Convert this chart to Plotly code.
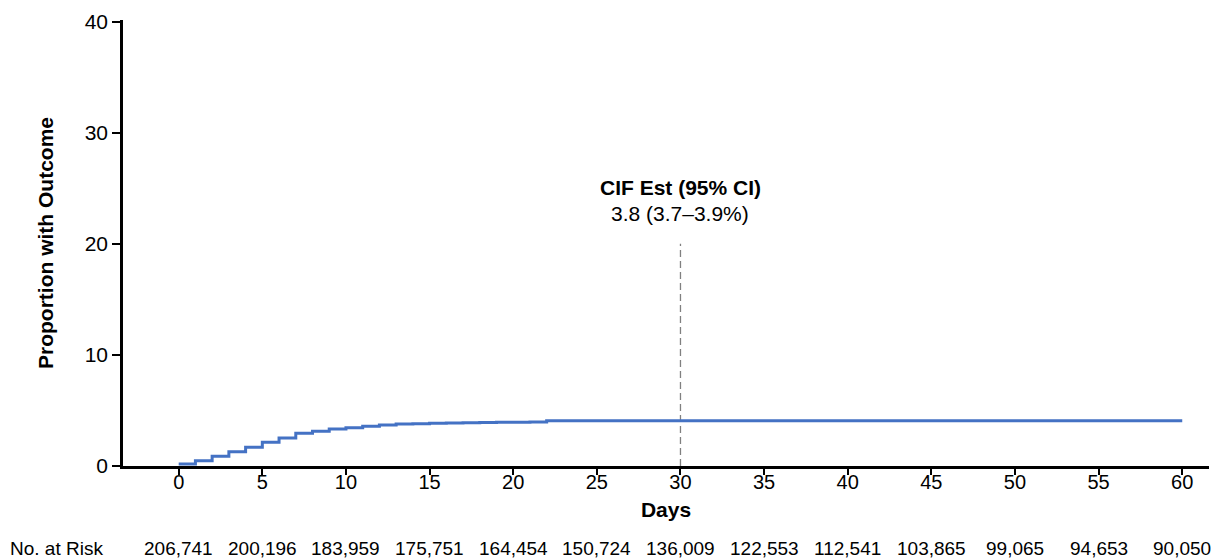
import plotly.graph_objects as go

# Data
days = list(range(0, 23)) + [60]
cif = [0.18, 0.48, 0.87, 1.29, 1.68, 2.13, 2.52, 2.94, 3.12, 3.33, 3.45, 3.57,
       3.69, 3.78, 3.80, 3.84, 3.86, 3.90, 3.91, 3.93, 3.94, 3.95, 4.08, 4.08]

tick_days = list(range(0, 61, 5))
at_risk = ["206,741", "200,196", "183,959", "175,751", "164,454", "150,724", "136,009",
           "122,553", "112,541", "103,865", "99,065", "94,653", "90,050"]
y_ticks = [0, 10, 20, 30, 40]

ref_day = 30
ref_top = 20
cif_title = "CIF Est (95% CI)"
cif_label = "3.8 (3.7\u20133.9%)"

FONT = "Arial, Liberation Sans, sans-serif"

fig = go.Figure()
fig.add_trace(go.Scatter(
    x=[ref_day, ref_day], y=[0, ref_top], mode="lines",
    line=dict(color="#808080", width=1.3, dash="7px,4px"),
    showlegend=False, hoverinfo="skip"))
fig.add_trace(go.Scatter(
    x=days, y=cif, mode="lines", line_shape="hv",
    line=dict(color="#4472C4", width=3), showlegend=False))

fig.add_annotation(x=ref_day, y=ref_top, xref="x", yref="y",
                   text="<b>" + cif_title + "</b>",
                   showarrow=False, yanchor="middle", yshift=56,
                   font=dict(family=FONT, size=21, color="black"))
fig.add_annotation(x=ref_day, y=ref_top, xref="x", yref="y",
                   text=cif_label,
                   showarrow=False, yanchor="middle", yshift=30,
                   font=dict(family=FONT, size=21, color="black"))

for d, n in zip(tick_days, at_risk):
    fig.add_annotation(x=d, y=-0.186, xref="x", yref="paper", text=n,
                       showarrow=False, yanchor="middle",
                       font=dict(family=FONT, size=19, color="black"))
fig.add_annotation(x=0, y=-0.186, xref="paper", yref="paper", xshift=-115,
                   text="No. at Risk", showarrow=False, xanchor="left", yanchor="middle",
                   font=dict(family=FONT, size=19, color="black"))

fig.update_layout(
    width=1211, height=552,
    margin=dict(l=115, r=10, t=12, b=94, autoexpand=False),
    plot_bgcolor="white", paper_bgcolor="white",
    font=dict(family=FONT, color="black"),
    xaxis=dict(range=[-3.33, 61.6], tickvals=tick_days, showline=True,
               linecolor="black", linewidth=2.5, ticks="outside", ticklen=6,
               tickwidth=2, tickcolor="black", showgrid=False, zeroline=False,
               automargin=False, ticklabelstandoff=-10,
               tickfont=dict(size=20),
               title=dict(text="<b>Days</b>", font=dict(size=21), standoff=11)),
    yaxis=dict(range=[0, 40.15], tickvals=y_ticks, showline=True,
               linecolor="black", linewidth=2.5, ticks="outside", ticklen=8,
               tickwidth=2, tickcolor="black", showgrid=False, zeroline=False,
               automargin=False,
               tickfont=dict(size=21),
               title=dict(text="<b>Proportion with Outcome</b>", font=dict(size=21),
                          standoff=26)),
)

fig.write_html("out.html")
